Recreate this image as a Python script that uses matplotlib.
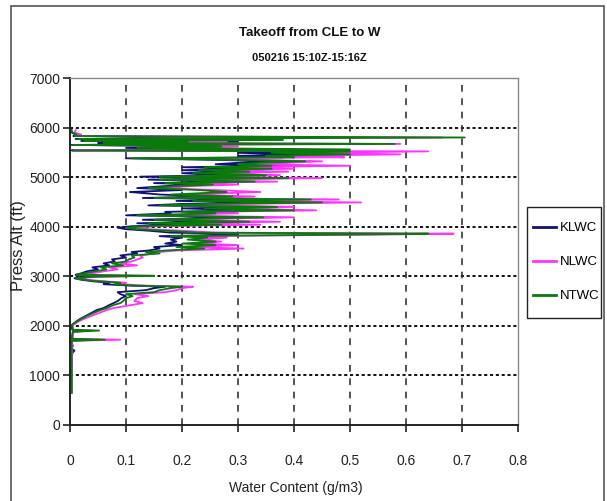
import matplotlib
matplotlib.use("Agg")
import matplotlib.pyplot as plt
from matplotlib.patches import Rectangle

TITLE = "Takeoff from CLE to W"
SUBTITLE = "050216 15:10Z-15:16Z"
XLABEL = "Water Content (g/m3)"
YLABEL = "Press Alt (ft)"
SERIES = ["KLWC", "NLWC", "NTWC"]
COLORS = ["#10107a", "#ff33ff", "#0a7a0a"]
XTICKS = [0, 0.1, 0.2, 0.3, 0.4, 0.5, 0.6, 0.7, 0.8]
XTICKLABELS = ["0", "0.1", "0.2", "0.3", "0.4", "0.5", "0.6", "0.7", "0.8"]
YTICKS = [0, 1000, 2000, 3000, 4000, 5000, 6000, 7000]

ALT = [650, 900, 1200, 1450, 1500, 1540, 1600, 1640, 1700, 1720, 1740, 1800, 1880, 1905, 1920, 1980, 2020,
       2080, 2140, 2200, 2260, 2320, 2360, 2420, 2460, 2500, 2560,
       2600, 2640, 2680, 2720, 2760, 2790, 2810, 2840, 2870, 2900,
       2930, 2960, 2990, 3010, 3030, 3060, 3100, 3140, 3180, 3220,
       3260, 3300, 3340, 3380, 3420, 3460, 3490, 3520, 3560, 3590,
       3630, 3660, 3700, 3740, 3780, 3810, 3840, 3860, 3880, 3920,
       3950, 3980, 4010,
       4040, 4070, 4100, 4140, 4190, 4230, 4270, 4300, 4330, 4370,
       4400, 4430, 4460, 4490, 4520, 4550, 4580, 4610, 4650, 4700,
       4740, 4780, 4820, 4850, 4880, 4910, 4950, 4980,
       5010, 5040, 5080, 5110, 5140, 5170, 5200, 5230, 5260, 5290,
       5320, 5350, 5380, 5400, 5430, 5460, 5490, 5520, 5540, 5560,
       5590, 5620, 5650, 5670, 5690, 5710, 5730, 5750, 5770, 5800,
       5830, 5860, 5900, 5950]

KLWC = [0.003, 0.003, 0.003, 0.004, 0.008, 0.003, 0.004, 0.003, 0.003, 0.040, 0.003, 0.004, 0.005, 0.030, 0.004, 0.003, 0.004,
        0.010, 0.018, 0.028, 0.038, 0.048, 0.060, 0.070, 0.078, 0.085, 0.092,
        0.100, 0.090, 0.085, 0.135, 0.150, 0.170, 0.110, 0.060, 0.070, 0.040,
        0.020, 0.008, 0.020, 0.060, 0.010, 0.020, 0.030, 0.050, 0.040, 0.070,
        0.060, 0.080, 0.075, 0.100, 0.090, 0.120, 0.110, 0.140, 0.160, 0.150,
        0.200, 0.170, 0.190, 0.180, 0.200, 0.160, 0.300, 0.300, 0.180, 0.140,
        0.100, 0.085, 0.110,
        0.200, 0.120, 0.260, 0.130, 0.300, 0.100, 0.180, 0.170, 0.320, 0.200,
        0.360, 0.140, 0.200, 0.380, 0.190, 0.340, 0.130, 0.250, 0.160, 0.107,
        0.200, 0.120, 0.170, 0.230, 0.150, 0.290, 0.140, 0.300,
        0.125, 0.280, 0.200, 0.300, 0.200, 0.330, 0.200, 0.380, 0.260, 0.300,
        0.380, 0.250, 0.100, 0.380, 0.300, 0.420, 0.300, 0.420, 0.003, 0.300,
        0.100, 0.270, 0.003, 0.370, 0.050, 0.300, 0.020, 0.330, 0.010, 0.290,
        0.006, 0.010, 0.003, 0.002]

NLWC = [0.003, 0.003, 0.003, 0.004, 0.004, 0.003, 0.006, 0.003, 0.004, 0.090, 0.005, 0.005, 0.006, 0.040, 0.006, 0.005, 0.006,
        0.014, 0.025, 0.038, 0.052, 0.066, 0.078, 0.110, 0.130, 0.115, 0.120,
        0.140, 0.115, 0.170, 0.190, 0.200, 0.220, 0.140, 0.090, 0.100, 0.060,
        0.030, 0.012, 0.050, 0.140, 0.015, 0.040, 0.060, 0.085, 0.070, 0.120,
        0.090, 0.110, 0.120, 0.130, 0.125, 0.150, 0.160, 0.190, 0.310, 0.220,
        0.300, 0.230, 0.270, 0.230, 0.280, 0.200, 0.550, 0.685, 0.260, 0.200,
        0.140, 0.120, 0.150,
        0.340, 0.180, 0.375, 0.180, 0.400, 0.150, 0.300, 0.230, 0.440, 0.280,
        0.400, 0.200, 0.300, 0.520, 0.260, 0.480, 0.180, 0.330, 0.200, 0.340,
        0.260, 0.160, 0.220, 0.300, 0.200, 0.370, 0.190, 0.450,
        0.200, 0.375, 0.260, 0.390, 0.260, 0.400, 0.280, 0.500, 0.330, 0.390,
        0.450, 0.330, 0.150, 0.490, 0.400, 0.590, 0.420, 0.640, 0.006, 0.420,
        0.150, 0.300, 0.008, 0.590, 0.080, 0.280, 0.030, 0.380, 0.020, 0.665,
        0.010, 0.020, 0.008, 0.010]

NTWC = [0.003, 0.003, 0.003, 0.003, 0.003, 0.003, 0.003, 0.003, 0.003, 0.062, 0.004, 0.004, 0.005, 0.052, 0.005, 0.004, 0.003,
        0.011, 0.020, 0.030, 0.042, 0.055, 0.066, 0.078, 0.090, 0.095, 0.100,
        0.112, 0.100, 0.150, 0.160, 0.180, 0.200, 0.120, 0.080, 0.090, 0.050,
        0.025, 0.010, 0.040, 0.150, 0.012, 0.025, 0.045, 0.065, 0.055, 0.095,
        0.075, 0.100, 0.105, 0.115, 0.110, 0.160, 0.135, 0.170, 0.240, 0.190,
        0.260, 0.200, 0.260, 0.210, 0.245, 0.180, 0.490, 0.640, 0.230, 0.170,
        0.120, 0.100, 0.130,
        0.270, 0.140, 0.320, 0.150, 0.345, 0.120, 0.260, 0.200, 0.400, 0.240,
        0.370, 0.160, 0.250, 0.450, 0.220, 0.430, 0.150, 0.290, 0.180, 0.280,
        0.230, 0.140, 0.190, 0.255, 0.170, 0.330, 0.160, 0.390,
        0.160, 0.350, 0.220, 0.320, 0.230, 0.360, 0.240, 0.360, 0.300, 0.340,
        0.420, 0.290, 0.110, 0.400, 0.350, 0.500, 0.360, 0.500, 0.004, 0.500,
        0.120, 0.270, 0.005, 0.580, 0.060, 0.210, 0.025, 0.380, 0.015, 0.705,
        0.008, 0.012, 0.004, 0.003]

FONT = ["Liberation Sans", "DejaVu Sans"]

W, H = 607, 501
fig = plt.figure(figsize=(W / 100, H / 100), dpi=100)
fig.patch.set_facecolor("white")

# chart-area border
fig.patches.append(Rectangle((11 / W, -0.01), (604 - 11) / W, (H - 6) / H + 0.01,
                             transform=fig.transFigure, fill=False,
                             edgecolor="#555555", linewidth=1.2))

ax = fig.add_axes([70 / W, (H - 425) / H, (518 - 70) / W, (425 - 78) / H])

for name, vals, col in zip(SERIES, [KLWC, NLWC, NTWC], COLORS):
    ax.plot(vals, ALT, color=col, linewidth=1.3, label=name)

ax.set_xlim(0, 0.8)
ax.set_ylim(0, 7000)
ax.set_xticks(XTICKS)
ax.set_xticklabels(XTICKLABELS)
ax.set_yticks(YTICKS)
ax.set_yticklabels([str(v) for v in YTICKS])

for y in YTICKS[1:]:
    ax.axhline(y, color="#111111", linewidth=1.4, linestyle=(0, (1.6, 1.4)), zorder=0)
for x in XTICKS[1:-1]:
    ax.axvline(x, color="#333333", linewidth=1.2, linestyle=(0, (4, 4)), zorder=0)

for s in ["top", "right"]:
    ax.spines[s].set_color("#888888")
    ax.spines[s].set_linewidth(1.0)
for s in ["left", "bottom"]:
    ax.spines[s].set_color("#222222")
    ax.spines[s].set_linewidth(1.4)

ax.tick_params(axis="both", direction="out", length=5, width=1.2, color="#222222",
               labelsize=10)
ax.tick_params(axis="x", pad=16)
ax.tick_params(axis="y", pad=2)
for lab in ax.get_xticklabels() + ax.get_yticklabels():
    lab.set_family(FONT)
    lab.set_color("#222222")

fig.text(296 / W, (H - 488) / H, XLABEL, ha="center", va="center", family=FONT,
         fontsize=10, color="#222222")
fig.text(19 / W, (H - 246) / H, YLABEL, ha="center", va="center", rotation=90,
         family=FONT, fontsize=12, color="#222222")

fig.text(0.51, (H - 33) / H, TITLE, ha="center", va="center", family=FONT,
         fontsize=9.5, fontweight="bold", color="#111111")
fig.text(0.51, (H - 58) / H, SUBTITLE, ha="center", va="center", family=FONT,
         fontsize=8, fontweight="bold", color="#111111")

# legend frame and entries
fig.patches.append(Rectangle((527 / W, (H - 318) / H), (601 - 527) / W, (318 - 207) / H,
                             transform=fig.transFigure, fill=False,
                             edgecolor="#222222", linewidth=1.0))
leg = fig.legend(loc="upper left", bbox_to_anchor=(533 / W, (H - 222) / H),
                 prop={"family": FONT, "size": 9.5}, frameon=False,
                 handlelength=1.75, labelspacing=1.65, borderpad=0,
                 handletextpad=0.3, borderaxespad=0)
for line in leg.get_lines():
    line.set_linewidth(2.0)

fig.savefig("out.png", dpi=100, facecolor="white")
